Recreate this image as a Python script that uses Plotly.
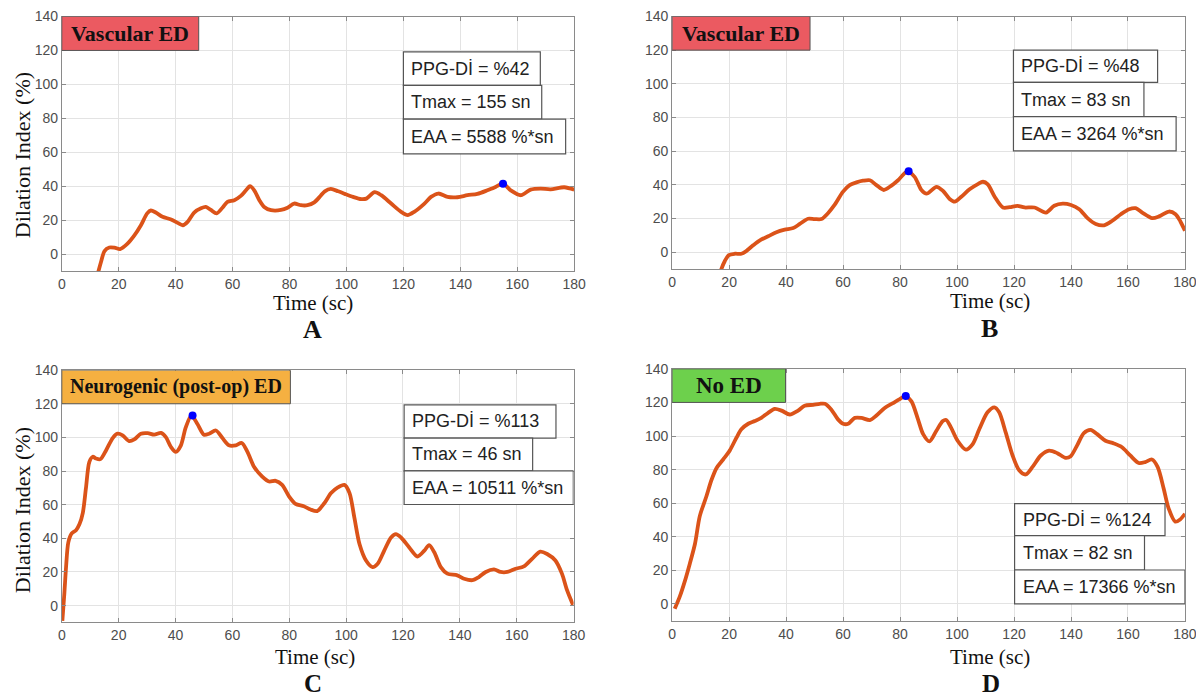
import plotly.graph_objects as go
from plotly.subplots import make_subplots

# ---------------- data ----------------
A_t = [12.3, 12.9, 13.8, 15, 16.7, 18.5, 20.5, 23, 25.5, 27.8, 30, 31.3, 33, 35.4, 38.4, 40.7, 42.5, 44.2, 46.5, 48.9,
       50.6, 52.4, 54.4, 56.5, 58.2, 60.6, 62.9, 64.7, 66.1, 67.6, 69.4, 71.1, 73.5, 77, 79.3, 81.6, 84, 86.3, 88.7, 91,
       92.4, 94.5, 97.1, 99.4, 102.3, 105.2, 107, 109.9, 112.2, 115.7, 119.2, 121.5, 123.8, 127.4, 129.7, 132.3, 135.5,
       139, 142.5, 146, 149.5, 152.4, 155, 157.7, 161.2, 164.7, 168.2, 171.7, 176.5, 180]
A_v = [-14, -10, -4.5, 1.8, 3.9, 3.8, 3, 6, 11, 17, 24, 25.7, 24.5, 22, 20.4, 18.4, 17, 19, 24.5, 27,
       27.8, 26, 24, 27.5, 30.8, 31.8, 34.3, 37.6, 40, 37.6, 31.8, 27.8, 25.9, 26, 27.3, 29.8, 28.8, 28.8, 30.5, 34.5,
       37, 38.4, 37, 35.5, 33.7, 32.4, 32.7, 36.5, 34.7, 29.8, 24.9, 23, 24.9, 29.8, 33.7, 35.7, 33.7,
       33.5, 34.7, 35.5, 37.6, 39.6, 41.5, 37.6, 34.7, 38, 38.6, 38.2, 39.4, 38]

B_t = [16.8, 17.3, 18.5, 19.9, 22, 24.3, 26, 28.4, 30.8, 33.7, 36.6, 39.5, 42.5, 44.8, 47.7, 50, 52.4, 54.7, 57, 60,
       62.3, 64.7, 67, 69.4, 71.7, 74.3, 76.4, 79.3, 82.6, 85.1, 87.5, 89.3, 92.8, 95.1, 97.4, 99.2, 101.5, 104.4,
       107.3, 109.1, 110.8, 113.2, 116.1, 118.5, 121.2, 123.7, 127.2, 131.2, 134.1, 137.1, 140, 142.9, 145.8, 148.7,
       151.6, 154.5, 157.5, 160.4, 162.7, 165, 168.5, 170.9, 174.4, 176.7, 178.4, 180]
B_v = [-13, -10, -5.3, -1.8, -1, -1, 0.6, 4, 7, 9.4, 11.8, 13.3, 14.3, 16.7, 19.8, 19.6, 19.6, 23.1, 28, 35.9,
       39.8, 41.4, 42.4, 42.7, 39.8, 36.9, 38.8, 42.7, 48, 44.7, 36.9, 34.7, 38.8, 36.3, 31.6, 30, 32.9, 37.3,
       40.4, 41.8, 40.2, 32.9, 26.5, 26.7, 27.5, 26.5, 26.5, 23.5, 27.5, 28.8, 28, 25.5, 20.2, 16.7,
       15.9, 18.6, 22.5, 25.5, 26.1, 23.5, 20.2, 21.2, 24.1, 22.5, 18.2, 12.7]

C_t = [0.2, 0.9, 1.5, 2.3, 3.5, 5, 6.2, 7.4, 8.5, 9.7, 10.9, 12, 13.6, 15.6, 17.9, 19.6, 21.4, 23.7, 25.5, 27.8,
       30.2, 32.5, 34.9, 36.6, 38.4, 40.1, 41.9, 43.6, 45.6, 47.7, 50, 51.8, 54.2, 56.5, 58.8, 61.2, 63.3, 65.3, 67.6,
       70.5, 72.9, 75.2, 77.5, 79.9, 82.2, 85.1, 87.5, 89.8, 92.4, 94.7, 97.1, 99.4, 101.2, 102.9, 104.7, 107, 109.3,
       111.1, 113.4, 115.8, 117.5, 119.3, 122.2, 125.1, 127.5, 129.2, 131, 133.3, 135.6, 139.1, 141.5, 144.4, 146.7,
       149.1, 152, 154.3, 156.7, 159.6, 162.5, 165.4, 168.3, 170.7, 173.6, 175.9, 177.7, 179.8]
C_v = [-9, 7.2, 22.9, 37.6, 42.9, 44.8, 48.3, 55.2, 69.9, 85.5, 88.5, 87.5, 87.1, 92.4, 99.6, 102.2, 101.2, 97.8, 98.8,
       102.2, 102.5, 101.6, 102.7, 100.2, 94.3, 91.4, 95.3, 106, 113, 108, 101.6, 102.2, 104.1, 99.6, 95.3, 95.3, 96.7,
       91.4, 82.6, 76.7, 73.8, 74.2, 71.8, 65, 60.5, 59.1, 57.1, 56.2, 61, 66.9, 70.3, 71.8, 66.9, 52.3, 36.6, 26.8,
       22.9, 24.9, 32.7, 40.5, 42.5, 40.5, 34.6, 29.2, 32.7, 36, 31.7, 22.9, 19, 18, 16, 15.1, 17, 20, 21.5, 20, 20,
       21.9, 23.3, 27.8, 32.1, 30.7, 26.8, 19, 9.2, 0.4]

D_t = [0.9, 2.7, 4.4, 6.2, 8, 9.7, 12, 13.8, 15.6, 17.9, 20.2, 22.6, 24.3, 26.7, 29, 31.3, 33.7, 36, 38.4, 41.3,
       44.2, 46.5, 49.5, 51.8, 53.6, 55.9, 58.2, 60, 61.8, 64.1, 66.4, 69.4, 71.7, 74.6, 77.5, 79.9, 81.9, 84, 86.3,
       88.1, 90.3, 92.7, 95, 96.2, 97.9, 100.2, 103.1, 105.5, 107.8, 110.7, 113.1, 114.8, 117.1, 119.5, 121.8, 124.1,
       126.5, 129.4, 132.3, 135.2, 138.1, 139.9, 142.2, 144.5, 146.9, 149.2, 152.1, 155, 157.9, 160.8, 163.8, 166.1,
       168.4, 170.4, 172.5, 174.2, 176.6, 178.3, 180]
D_v = [-2.9, 4.5, 13.3, 24, 35.7, 52.3, 64, 73.8, 81, 86, 91.3, 99.1, 104, 107.3, 108.9, 110.8, 113.8, 116.1, 115.1,
       112.8, 115.1, 118, 118.6, 119.2, 119.2, 115.7, 109.9, 107.3, 107.3, 110.8, 110.8, 109.5, 112.2, 116.7, 119.6,
       122, 123.8, 120.6, 109.9, 101.1, 96.8, 103, 108.9, 109.5, 105, 97.2, 91.9, 95.2, 104, 114.1, 117.1, 114.1, 102,
       88.4, 79.6, 77.1, 81.6, 88.4, 91.3, 89.8, 87, 88, 94.6, 101.7, 103.6, 101.1, 97.2, 95.6, 93.3, 88.4, 83.9,
       84.5, 86, 81.6, 68.9, 57.2, 49, 50.3, 53.7]

peak_t = [155, 83, 46, 82]
peak_v = [41.5, 48, 113, 123.8]

categories = ["Vascular ED", "Vascular ED", "Neurogenic (post-op) ED", "No ED"]
ppg_di = ["%42", "%48", "%113", "%124"]
tmax = ["155 sn", "83 sn", "46 sn", "82 sn"]
eaa = ["5588 %*sn", "3264 %*sn", "10511 %*sn", "17366 %*sn"]
panel_letters = ["A", "B", "C", "D"]
x_ticks = [0, 20, 40, 60, 80, 100, 120, 140, 160, 180]
y_ticks = [0, 20, 40, 60, 80, 100, 120, 140]

series_t = [A_t, B_t, C_t, D_t]
series_v = [A_v, B_v, C_v, D_v]
for t, v in zip(series_t, series_v):
    assert len(t) == len(v), (len(t), len(v))

# ---------------- layout geometry (target picture pixels -> paper) ----------------
OFF = 8                      # page body margin
S = 0.987                    # observed scale of the page in the snapshot
BX, BY = 3.0, 8.1            # observed offsets of the page in the snapshot
W, H = 1196, 697
TOP_T, TOP_R, BOT = 11.7, 16.5, 690.0   # top of the picture can't be reached exactly: gentle remap


def px(xp):
    return ((xp - BX) / S - OFF) / W


def py(yp):
    yt = TOP_R + (yp - TOP_T) * (BOT - TOP_R) / (BOT - TOP_T)
    return 1 - ((yt - BY) / S - OFF) / H


panels_px = [  # left, right, top, bottom (target pixels)
    (60.7, 573.3, 11.7, 267.7),
    (671.3, 1184.3, 11.7, 265.5),
    (60.7, 572.7, 367.3, 621.0),
    (671.3, 1184.3, 366.0, 619.3),
]
cat_colors = ["#eb5a61", "#eb5a61", "#f5b041", "#6dd04c"]
cat_box_x1 = [48.1, 48.4, 80.4, 39.8]
cat_font = [22, 22, 20, 23]
# info boxes: (x0, x1, y0, y1) for PPG, Tmax, EAA per panel
info_boxes = [
    [(120.0, 168.1, 99.4, 119.2), (120.0, 168.6, 79.5, 99.4), (120.0, 177.0, 59.0, 79.5)],
    [(119.8, 170.4, 100.8, 120.0), (119.8, 165.6, 80.5, 100.8), (119.8, 176.9, 60.1, 80.5)],
    [(120.4, 173.8, 99.6, 119.4), (120.4, 165.6, 80.1, 99.6), (120.4, 179.9, 60.1, 80.1)],
    [(120.2, 173.0, 40.7, 59.7), (120.2, 165.8, 20.2, 40.7), (120.2, 180.0, 0.0, 20.2)],
]
time_lbl_px = [(312, 300), (989, 298), (314, 656), (989, 656)]
letter_px = [(312, 326), (989, 325), (312, 682), (990, 682)]
letter_font = [26, 26, 25, 25]
ytitle_px = [(21, 151), (21, 508)]

fig = make_subplots(rows=2, cols=2)

LINE = "#db5319"
SANS = "Liberation Sans, Arial, sans-serif"
SERIF = "Liberation Serif, Times New Roman, serif"

axis_names = [("x", "y"), ("x2", "y2"), ("x3", "y3"), ("x4", "y4")]
for i in range(4):
    r, c = i // 2 + 1, i % 2 + 1
    fig.add_trace(go.Scatter(x=series_t[i], y=series_v[i], mode="lines",
                             line=dict(color=LINE, width=3.8, shape="spline", smoothing=0.8),
                             showlegend=False, hoverinfo="skip"), row=r, col=c)
    fig.add_trace(go.Scatter(x=[peak_t[i]], y=[peak_v[i]], mode="markers",
                             marker=dict(color="#0000ff", size=8),
                             showlegend=False, cliponaxis=False), row=r, col=c)

annotations = []
shapes = []
for i in range(4):
    l, rgt, top, bot = panels_px[i]
    xd = [px(l), px(rgt)]
    yd = [py(bot), py(top)]
    xa, ya = axis_names[i]
    xkey = "xaxis" if xa == "x" else "xaxis" + xa[1:]
    ykey = "yaxis" if ya == "y" else "yaxis" + ya[1:]
    common = dict(showgrid=True, gridcolor="#e3e3e3", gridwidth=1, zeroline=False,
                  showline=True, linecolor="#8a8a8a", linewidth=1, mirror="ticks",
                  ticks="inside", ticklen=4, tickcolor="#8a8a8a",
                  tickfont=dict(family=SANS, size=14, color="#4d4d4d"))
    fig.layout[xkey].update(domain=xd, range=[0, 180], tickvals=x_ticks, **common)
    fig.layout[ykey].update(domain=yd, range=[-10, 140], tickvals=y_ticks, **common)

    # category label box
    shapes.append(dict(type="rect", xref=xa, yref=ya, x0=0, x1=cat_box_x1[i], y0=120, y1=140,
                       fillcolor=cat_colors[i], line=dict(color="#555555", width=1), layer="above"))
    annotations.append(dict(xref=xa, yref=ya, x=cat_box_x1[i] / 2, y=130, text="<b>" + categories[i] + "</b>",
                            showarrow=False, font=dict(family=SERIF, size=cat_font[i], color="#111111"),
                            xanchor="center", yanchor="middle"))
    # info boxes
    texts = ["PPG-Dİ = " + ppg_di[i], "Tmax = " + tmax[i], "EAA = " + eaa[i]]
    for (x0, x1, y0, y1), txt in zip(info_boxes[i], texts):
        shapes.append(dict(type="rect", xref=xa, yref=ya, x0=x0, x1=x1, y0=y0, y1=y1,
                           fillcolor="white", line=dict(color="#555555", width=1.2), layer="above"))
        annotations.append(dict(xref=xa, yref=ya, x=x0, y=(y0 + y1) / 2, text=txt, showarrow=False,
                                xanchor="left", yanchor="middle", xshift=6,
                                font=dict(family=SANS, size=18, color="#222222")))
    # time label and panel letter
    tx, ty = time_lbl_px[i]
    annotations.append(dict(xref="paper", yref="paper", x=px(tx), y=py(ty), text="Time (sc)",
                            showarrow=False, xanchor="center", yanchor="middle",
                            font=dict(family=SERIF, size=21, color="#111111")))
    lx, ly = letter_px[i]
    annotations.append(dict(xref="paper", yref="paper", x=px(lx), y=py(ly), text="<b>" + panel_letters[i] + "</b>",
                            showarrow=False, xanchor="center", yanchor="middle",
                            font=dict(family=SERIF, size=letter_font[i], color="#111111")))

for (yx, yy) in ytitle_px:
    annotations.append(dict(xref="paper", yref="paper", x=px(yx), y=py(yy), text="Dilation Index (%)",
                            showarrow=False, textangle=-90, xanchor="center", yanchor="middle",
                            font=dict(family=SERIF, size=22, color="#111111")))

fig.update_layout(width=W, height=H, margin=dict(l=0, r=0, t=0, b=0),
                  paper_bgcolor="white", plot_bgcolor="white",
                  annotations=annotations, shapes=shapes, showlegend=False)

fig.write_html("out.html")
